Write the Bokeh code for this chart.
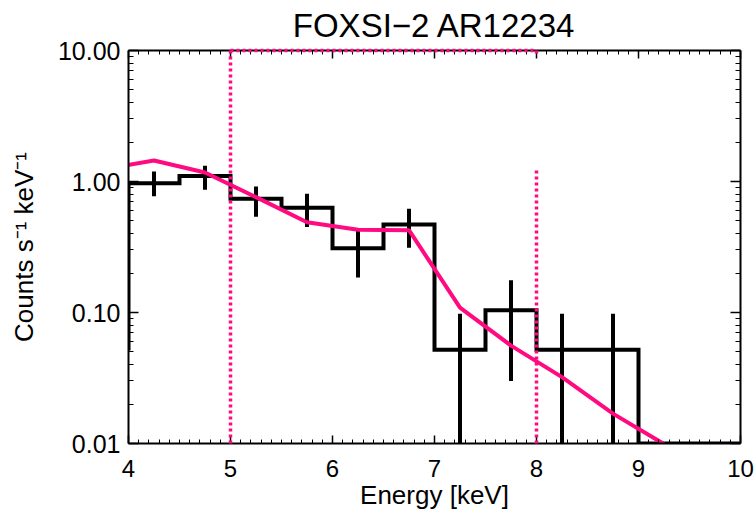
from bokeh.plotting import figure
from bokeh.models import (Range1d, FixedTicker, LinearAxis, LogAxis,
                          CustomJSTickFormatter)
from bokeh.embed import file_html
from bokeh.resources import INLINE
import numpy as np

# Observed count-rate spectrum, 0.5 keV bins (left edges) in counts s^-1 keV^-1
bin_left = [3.5, 4.0, 4.5, 5.0, 5.5, 6.0, 6.5, 7.0, 7.5, 8.0, 8.5, 9.0, 9.5]
bin_rate = [0.053, 0.97, 1.10, 0.74, 0.63, 0.31, 0.47, 0.052, 0.104, 0.052, 0.052, 0.01, 0.01]
bin_right_edge = 10.0

# Error bars at bin centres
err_x = [4.25, 4.75, 5.25, 5.75, 6.25, 6.75, 7.25, 7.75, 8.25, 8.75]
err_hi = [1.19, 1.32, 0.917, 0.807, 0.43, 0.62, 0.098, 0.176, 0.098, 0.098]
err_lo = [0.77, 0.865, 0.537, 0.45, 0.185, 0.312, 0.001, 0.030, 0.001, 0.001]

# Model spectrum evaluated at bin centres
model_x = [3.75, 4.25, 4.75, 5.25, 5.75, 6.25, 6.75, 7.25, 7.75, 8.25, 8.75, 9.25]
model_y = [1.24, 1.445, 1.17, 0.76, 0.489, 0.428, 0.425, 0.109, 0.0559, 0.0321, 0.0169, 0.0099]

# Fit-range markers (keV) and their extents
fit_lo, fit_hi = 5.0, 8.0
marker_x0 = [fit_lo, fit_lo, fit_hi, fit_hi]
marker_x1 = [fit_lo, fit_hi, fit_hi, fit_hi]
marker_y0 = [0.01, 10.0, 0.01, 10.0]
marker_y1 = [10.0, 10.0, 1.23, 9.3]

# Axis ticks
x_ticks = [4, 5, 6, 7, 8, 9, 10]
y_ticks = [0.01, 0.1, 1.0, 10.0]

FONT = "Liberation Sans"
PINK = "#ff0a80"

p = figure(width=755, height=512, output_backend="svg", toolbar_location=None,
           y_axis_type="log", x_range=Range1d(4, 10), y_range=Range1d(0.01, 10),
           min_border_left=128, min_border_right=15, min_border_top=50,
           min_border_bottom=67)
p.outline_line_color = None
p.xgrid.visible = False
p.ygrid.visible = False
p.background_fill_color = "white"
p.border_fill_color = "white"

p.title.text = "FOXSI\u22122 AR12234"
p.title.text_font = FONT
p.title.text_font_size = "33px"
p.title.text_font_style = "normal"
p.title.text_color = "black"
p.title.align = "center"
p.title.vertical_align = "top"
p.title.standoff = 9
p.title.offset = 0

x_minor = [round(v, 1) for v in np.arange(4.0, 10.001, 0.1)]
y_minor = [k * 10.0 ** e for e in (-2, -1, 0) for k in range(2, 10)]
xt = FixedTicker(ticks=x_ticks, minor_ticks=x_minor)
yt = FixedTicker(ticks=y_ticks, minor_ticks=y_minor)


def style_axis(ax, major_len, minor_len):
    ax.axis_line_color = "black"
    ax.axis_line_width = 2
    ax.major_tick_line_color = "black"
    ax.minor_tick_line_color = "black"
    ax.major_tick_line_width = 1.5
    ax.minor_tick_line_width = 1
    ax.major_tick_in = major_len
    ax.major_tick_out = 0
    ax.minor_tick_in = minor_len
    ax.minor_tick_out = 0
    ax.major_label_text_font = FONT
    ax.major_label_text_color = "black"
    ax.axis_label_text_font = FONT
    ax.axis_label_text_font_style = "normal"
    ax.axis_label_text_color = "black"


xa = p.xaxis[0]
xa.ticker = xt
style_axis(xa, 8, 4)
xa.major_label_text_font_size = "24px"
xa.major_label_standoff = 16
xa.axis_label = "Energy [keV]"
xa.axis_label_text_font_size = "26px"
xa.axis_label_standoff = 0

ya = p.yaxis[0]
ya.ticker = yt
style_axis(ya, 10, 5)
ya.formatter = CustomJSTickFormatter(code="return tick.toFixed(2);")
ya.major_label_text_font_size = "25px"
ya.major_label_standoff = 8
ya.major_label_orientation = "horizontal"
ya.axis_label = "Counts s\u207b\u00b9 keV\u207b\u00b9"
ya.axis_label_text_font_size = "26px"
ya.axis_label_standoff = 16

blank = CustomJSTickFormatter(code="return '';")
top = LinearAxis(ticker=xt, formatter=blank)
style_axis(top, 8, 4)
top.major_label_text_font_size = "0px"
top.major_label_standoff = 0
p.add_layout(top, "above")

right = LogAxis(ticker=yt, formatter=blank)
style_axis(right, 10, 5)
right.major_label_text_font_size = "0px"
right.major_label_standoff = 0
p.add_layout(right, "right")

# Histogram of the observed spectrum
step_x = bin_left + [bin_right_edge]
step_y = bin_rate + [bin_rate[-1]]
p.step(step_x, step_y, mode="after", line_color="black", line_width=4,
       line_join="miter")

# Error bars
p.segment(x0=err_x, y0=err_lo, x1=err_x, y1=err_hi, line_color="black",
          line_width=4)

# Model curve
p.line(model_x, model_y, line_color=PINK, line_width=4)

# Fit range markers, drawn over the frame edge
p.segment(x0=marker_x0, y0=marker_y0, x1=marker_x1, y1=marker_y1,
          line_color=PINK, line_width=3.5, line_dash="3 3", level="overlay")

open("out.html", "w").write(file_html(p, INLINE))
